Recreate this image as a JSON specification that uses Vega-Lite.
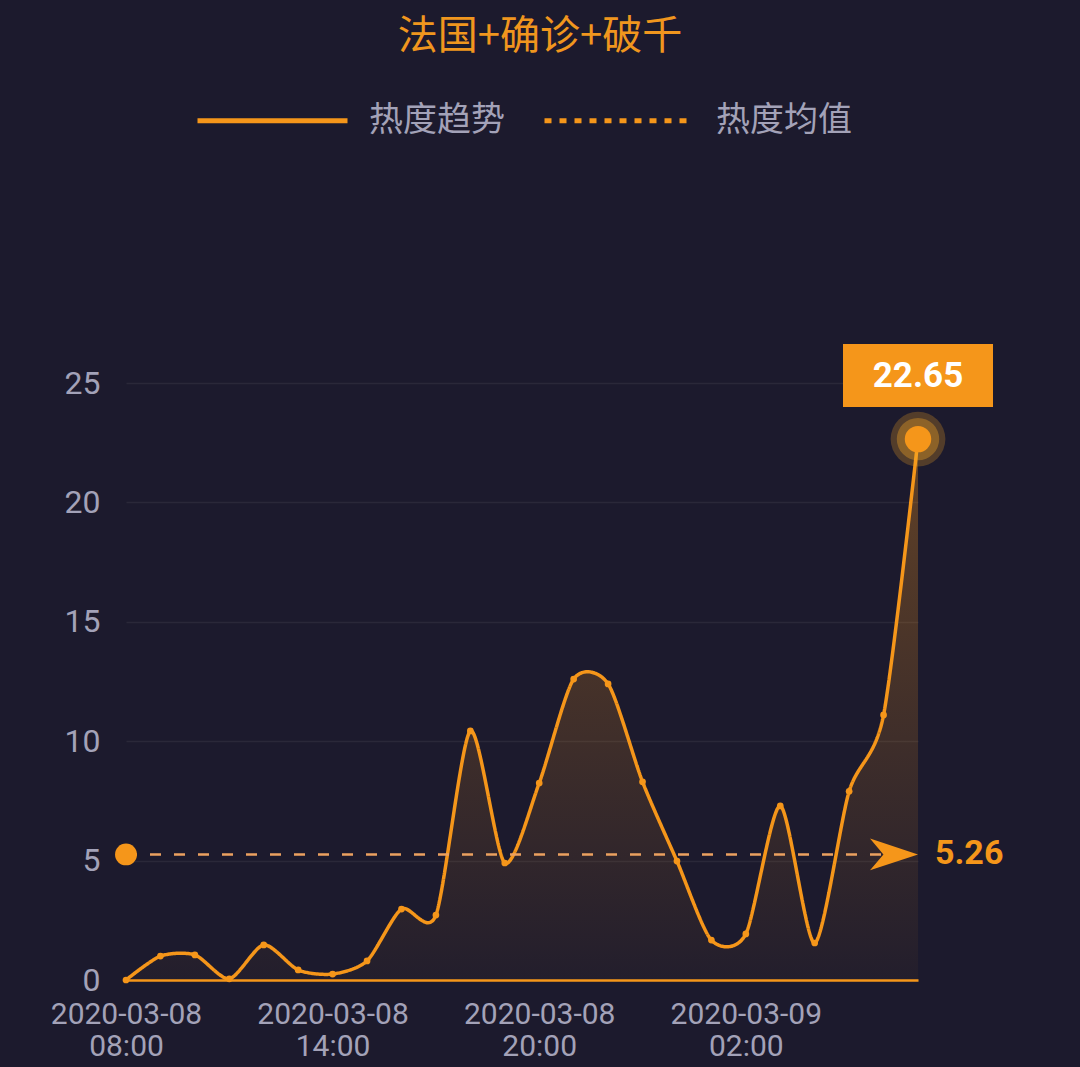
{
  "$schema": "https://vega.github.io/schema/vega-lite/v6.json",
  "width": 792,
  "height": 597,
  "autosize": {"type": "none"},
  "padding": {"left": 126, "top": 383, "right": 162, "bottom": 87},
  "background": "#1c1a2d",
  "config": {"view": {"stroke": null}},
  "title": {
    "text": "法国+确诊+破千",
    "color": "#f0961e",
    "font": "Noto Sans CJK SC",
    "fontSize": 40,
    "fontWeight": "normal",
    "anchor": "middle",
    "frame": "group",
    "baseline": "bottom",
    "dx": 18,
    "offset": -54
  },
  "datasets": {
    "trend": [
      {"t": "2020-03-08T08:00:00", "v": 0},
      {"t": "2020-03-08T09:00:00", "v": 1.0},
      {"t": "2020-03-08T10:00:00", "v": 1.05},
      {"t": "2020-03-08T11:00:00", "v": 0.05},
      {"t": "2020-03-08T12:00:00", "v": 1.47},
      {"t": "2020-03-08T13:00:00", "v": 0.42},
      {"t": "2020-03-08T14:00:00", "v": 0.25},
      {"t": "2020-03-08T15:00:00", "v": 0.8},
      {"t": "2020-03-08T16:00:00", "v": 2.97},
      {"t": "2020-03-08T17:00:00", "v": 2.72},
      {"t": "2020-03-08T18:00:00", "v": 10.43},
      {"t": "2020-03-08T19:00:00", "v": 4.9},
      {"t": "2020-03-08T20:00:00", "v": 8.25},
      {"t": "2020-03-08T21:00:00", "v": 12.6},
      {"t": "2020-03-08T22:00:00", "v": 12.4},
      {"t": "2020-03-08T23:00:00", "v": 8.3},
      {"t": "2020-03-09T00:00:00", "v": 4.98},
      {"t": "2020-03-09T01:00:00", "v": 1.67},
      {"t": "2020-03-09T02:00:00", "v": 1.93},
      {"t": "2020-03-09T03:00:00", "v": 7.29},
      {"t": "2020-03-09T04:00:00", "v": 1.55},
      {"t": "2020-03-09T05:00:00", "v": 7.9},
      {"t": "2020-03-09T06:00:00", "v": 11.1},
      {"t": "2020-03-09T07:00:00", "v": 22.65}
    ],
    "mean": [
      {"t": "2020-03-08T08:00:00", "v": 5.26, "pos": "start"},
      {"t": "2020-03-09T07:00:00", "v": 5.26, "pos": "end"}
    ],
    "peak": [
      {"t": "2020-03-09T07:00:00", "v": 22.65}
    ]
  },
  "encoding": {
    "x": {
      "field": "t",
      "type": "temporal",
      "title": null,
      "scale": {
        "domain": [
          {"year": 2020, "month": 3, "date": 8, "hours": 8},
          {"year": 2020, "month": 3, "date": 9, "hours": 7}
        ]
      },
      "axis": {
        "values": [
          {"year": 2020, "month": 3, "date": 8, "hours": 8},
          {"year": 2020, "month": 3, "date": 8, "hours": 14},
          {"year": 2020, "month": 3, "date": 8, "hours": 20},
          {"year": 2020, "month": 3, "date": 9, "hours": 2}
        ],
        "labelExpr": "[timeFormat(datum.value, '%Y-%m-%d'), timeFormat(datum.value, '%H:%M')]",
        "labelFont": "Roboto",
        "labelFontSize": 30,
        "labelLineHeight": 32,
        "labelColor": "#a3a2b8",
        "labelPadding": 19,
        "labelAlign": "center",
        "labelOverlap": false,
        "labelFlush": false,
        "ticks": false,
        "grid": false,
        "domainColor": "#f5961a",
        "domainWidth": 2.5,
        "zindex": 1
      }
    },
    "y": {
      "field": "v",
      "type": "quantitative",
      "title": null,
      "scale": {"domain": [0, 25], "nice": false},
      "axis": {
        "values": [0, 5, 10, 15, 20, 25],
        "labelFont": "Roboto",
        "labelFontSize": 32,
        "labelColor": "#a3a2b8",
        "labelPadding": 26,
        "ticks": false,
        "domain": false,
        "gridColor": "#2a2839",
        "gridWidth": 1.5
      }
    }
  },
  "layer": [
    {
      "data": {"name": "trend"},
      "mark": {
        "type": "area",
        "interpolate": "cardinal",
        "tension": 0.25,
        "color": {
          "gradient": "linear",
          "x1": 0, "y1": 0, "x2": 0, "y2": 1,
          "stops": [
            {"offset": 0, "color": "rgba(245,150,26,0.32)"},
            {"offset": 1, "color": "rgba(245,150,26,0.03)"}
          ]
        }
      }
    },
    {
      "data": {"name": "trend"},
      "mark": {"type": "line", "interpolate": "cardinal", "tension": 0.25, "color": "#f5961a", "strokeWidth": 3.5},
      "encoding": {
        "strokeDash": {
          "datum": "热度趋势",
          "scale": {"domain": ["热度趋势", "热度均值"], "range": [[1, 0], [7, 8]]},
          "legend": {
            "title": null,
            "orient": "none",
            "legendX": 69,
            "legendY": -340,
            "direction": "horizontal",
            "symbolType": "stroke",
            "symbolSize": 22500,
            "symbolStrokeWidth": 5,
            "symbolStrokeColor": "#f5961a",
            "labelFont": "Noto Sans CJK SC",
            "labelFontSize": 34,
            "labelColor": "#a3a2b8",
            "labelOffset": 19,
            "columnPadding": 29,
            "labelLimit": 300
          }
        }
      }
    },
    {
      "data": {"name": "mean"},
      "mark": {"type": "line", "color": "#eba160", "strokeWidth": 2.5, "strokeDash": [11, 13]}
    },
    {
      "data": {"name": "trend"},
      "mark": {"type": "point", "filled": true, "size": 45, "opacity": 1, "color": "#f5961a"}
    },
    {
      "data": {"name": "mean"},
      "transform": [{"filter": "datum.pos === 'start'"}],
      "mark": {"type": "point", "shape": "circle", "filled": true, "size": 480, "opacity": 1, "color": "#f5961a"}
    },
    {
      "data": {"name": "mean"},
      "transform": [{"filter": "datum.pos === 'end'"}],
      "mark": {"type": "point", "shape": "M0,0L-1,-0.33L-0.72,0L-1,0.33Z", "filled": true, "size": 9216, "opacity": 1, "color": "#f5961a"}
    },
    {
      "data": {"name": "mean"},
      "transform": [{"filter": "datum.pos === 'end'"}],
      "mark": {"type": "text", "align": "left", "baseline": "middle", "dx": 17, "font": "Roboto", "fontSize": 34, "fontWeight": "bold", "color": "#f5961a"},
      "encoding": {"text": {"field": "v", "type": "quantitative", "format": ".2f"}}
    },
    {
      "data": {"name": "peak"},
      "mark": {"type": "point", "shape": "circle", "filled": true, "size": 3000, "opacity": 0.25, "color": "#f7a825"}
    },
    {
      "data": {"name": "peak"},
      "mark": {"type": "point", "shape": "circle", "filled": true, "size": 1800, "opacity": 0.35, "color": "#f7a825"}
    },
    {
      "data": {"name": "peak"},
      "mark": {"type": "point", "shape": "circle", "filled": true, "size": 700, "opacity": 1, "color": "#f5961a"}
    },
    {
      "data": {"name": "peak"},
      "mark": {"type": "point", "shape": "M-1,-1.267L1,-1.267L1,-0.427L-1,-0.427Z", "filled": true, "size": 22500, "opacity": 1, "color": "#f5961a"}
    },
    {
      "data": {"name": "peak"},
      "mark": {"type": "text", "align": "center", "baseline": "middle", "dy": -63, "font": "Roboto", "fontSize": 35, "fontWeight": "bold", "color": "#ffffff"},
      "encoding": {"text": {"field": "v", "type": "quantitative", "format": ".2f"}}
    }
  ]
}
